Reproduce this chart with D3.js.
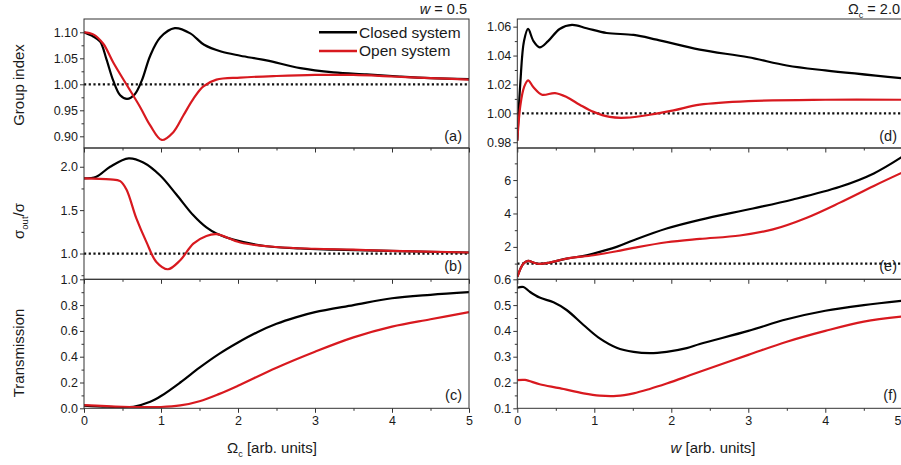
<!DOCTYPE html>
<html><head><meta charset="utf-8">
<script src="https://cdn.jsdelivr.net/npm/d3@7"></script>
<style>body{margin:0;background:#fff} text{font-family:Arial,"Liberation Sans",sans-serif;fill:#1a1a1a}</style>
</head><body>
<svg id="c" width="901" height="465"></svg>
<script>
// ---- data ----
const xTicks = [0,1,2,3,4,5];
const xMinor = [0.5,1.5,2.5,3.5,4.5];

// (a) group index vs Omega_c
const aClosedX = [0,0.12,0.21,0.29,0.38,0.47,0.56,0.66,0.75,0.86,0.99,1.18,1.38,1.56,1.78,2.03,2.37,2.81,3.24,3.67,4.1,4.5,5];
const aClosedY = [1.100,1.092,1.082,1.049,1.007,0.979,0.972,0.981,1.007,1.055,1.090,1.108,1.098,1.076,1.063,1.055,1.046,1.031,1.023,1.019,1.015,1.012,1.010];
const aOpenX = [0,0.12,0.25,0.38,0.55,0.73,0.86,1.01,1.16,1.29,1.42,1.55,1.72,2.03,2.5,3.0,3.5,4.0,4.5,5];
const aOpenY = [1.100,1.096,1.078,1.042,1.000,0.956,0.921,0.893,0.908,0.940,0.972,0.996,1.009,1.013,1.016,1.018,1.018,1.015,1.012,1.009];

// (b) sigma_out/sigma vs Omega_c
const bClosedX = [0,0.16,0.34,0.58,0.77,0.99,1.2,1.42,1.59,1.72,1.94,2.37,2.81,3.24,4.1,5];
const bClosedY = [1.866,1.885,2.0,2.097,2.05,1.90,1.68,1.44,1.30,1.23,1.16,1.084,1.058,1.046,1.027,1.012];
const bOpenX = [0,0.34,0.47,0.55,0.68,0.81,0.94,1.09,1.25,1.42,1.59,1.72,2.03,2.5,3.0,3.5,4.0,5];
const bOpenY = [1.866,1.855,1.835,1.74,1.404,1.134,0.903,0.819,0.923,1.115,1.203,1.223,1.127,1.075,1.055,1.045,1.030,1.012];

// (c) transmission vs Omega_c
const cClosedX = [0,0.3,0.64,0.86,1.0,1.25,1.5,1.75,2.0,2.25,2.5,2.75,3.0,3.5,4.0,4.5,5];
const cClosedY = [0.02,0.012,0.012,0.05,0.095,0.2,0.315,0.42,0.51,0.59,0.655,0.705,0.745,0.80,0.853,0.88,0.90];
const cOpenX = [0,0.5,1.0,1.25,1.5,1.75,2.0,2.5,3.0,3.5,4.0,4.5,5];
const cOpenY = [0.025,0.012,0.01,0.022,0.055,0.11,0.175,0.315,0.439,0.55,0.633,0.69,0.745];

// (d) group index vs w
const dClosedX = [0,0.04,0.087,0.14,0.21,0.29,0.40,0.55,0.71,0.90,1.16,1.51,1.81,2.37,3.0,3.5,4.0,5];
const dClosedY = [0.981,1.0216,1.050,1.0584,1.050,1.0457,1.050,1.0584,1.0612,1.0589,1.0556,1.0543,1.051,1.0441,1.0388,1.0331,1.0297,1.0243];
const dOpenX = [0,0.04,0.087,0.14,0.21,0.32,0.49,0.64,0.81,0.99,1.2,1.42,1.72,2.03,2.37,3.0,4.0,5];
const dOpenY = [0.981,1.0055,1.018,1.0228,1.018,1.0129,1.014,1.0113,1.006,1.001,0.9975,0.997,0.999,1.002,1.006,1.0085,1.0094,1.0094];

// (e) sigma_out/sigma vs w
const eClosedX = [0,0.08,0.14,0.21,0.29,0.42,0.64,0.85,0.99,1.29,1.51,1.94,2.37,3.06,3.58,4.19,4.63,5];
const eClosedY = [0.2,1.0,1.16,1.06,0.98,1.06,1.3,1.45,1.6,2.0,2.4,3.1,3.62,4.3,4.84,5.6,6.4,7.4];
const eOpenX = [0,0.08,0.14,0.21,0.29,0.42,0.64,0.99,1.29,1.51,1.94,2.37,2.89,3.32,3.76,4.19,4.63,5];
const eOpenY = [0.2,1.0,1.16,1.06,0.98,1.06,1.3,1.5,1.74,1.94,2.28,2.48,2.68,3.05,3.75,4.65,5.65,6.45];

// (f) transmission vs w
const fClosedX = [0,0.08,0.16,0.29,0.47,0.64,0.86,1.07,1.29,1.51,1.72,1.94,2.2,2.37,3.0,3.5,4.0,4.5,5];
const fClosedY = [0.567,0.570,0.552,0.529,0.511,0.481,0.423,0.371,0.335,0.319,0.314,0.319,0.333,0.349,0.40,0.445,0.478,0.50,0.517];
const fOpenX = [0,0.1,0.29,0.55,0.86,1.07,1.29,1.51,1.72,1.94,2.16,2.37,3.0,3.5,4.0,4.5,5];
const fOpenY = [0.209,0.21,0.193,0.178,0.158,0.149,0.148,0.158,0.175,0.196,0.219,0.242,0.307,0.358,0.40,0.436,0.456];

const seriesNames = ["Closed system","Open system"];
const colors = ["#000000","#d8191f"];

// ---- layout ----
const svg = d3.select('#c');
const cols = {L:[84,469], R:[517.3,902.3]};
const rows = {top:[19,148], mid:[148,279.3], bot:[279.3,408.3]};
const axisColor = "#333";

const panels = [
 {id:'a', col:'L', row:'top', dom:[0.8775,1.1256], major:[0.90,0.95,1.00,1.05,1.10], minor:[0.925,0.975,1.025,1.075], fmt:'.2f', s:[[aClosedX,aClosedY],[aOpenX,aOpenY]], ref:1},
 {id:'b', col:'L', row:'mid', dom:[0.703,2.216], major:[1.0,1.5,2.0], minor:[0.75,1.25,1.75], fmt:'.1f', s:[[bClosedX,bClosedY],[bOpenX,bOpenY]], ref:1},
 {id:'c', col:'L', row:'bot', dom:[0,1.0], major:[0,0.2,0.4,0.6,0.8,1.0], minor:[0.1,0.3,0.5,0.7,0.9], fmt:'.1f', s:[[cClosedX,cClosedY],[cOpenX,cOpenY]], ref:null},
 {id:'d', col:'R', row:'top', dom:[0.976,1.0653], major:[0.98,1.00,1.02,1.04,1.06], minor:[0.99,1.01,1.03,1.05], fmt:'.2f', s:[[dClosedX,dClosedY],[dOpenX,dOpenY]], ref:1},
 {id:'e', col:'R', row:'mid', dom:[0.06,7.92], major:[2,4,6], minor:[1,3,5,7], fmt:'d', s:[[eClosedX,eClosedY],[eOpenX,eOpenY]], ref:1},
 {id:'f', col:'R', row:'bot', dom:[0.1,0.6], major:[0.1,0.2,0.3,0.4,0.5,0.6], minor:[0.15,0.25,0.35,0.45,0.55], fmt:'.1f', s:[[fClosedX,fClosedY],[fOpenX,fOpenY]], ref:null}
];

const defs = svg.append('defs');
panels.forEach(p => {
  const [x0,x1] = cols[p.col], [y0,y1] = rows[p.row];
  const x = d3.scaleLinear([0,5],[x0,x1]);
  const y = d3.scaleLinear(p.dom,[y1,y0]);
  const g = svg.append('g');
  defs.append('clipPath').attr('id','clip'+p.id).append('rect')
    .attr('x',x0).attr('y',y0).attr('width',x1-x0).attr('height',y1-y0);

  if (p.ref !== null) {
    g.append('line').attr('x1',x0).attr('x2',x1).attr('y1',y(p.ref)).attr('y2',y(p.ref))
      .attr('stroke','#111').attr('stroke-width',2.3).attr('stroke-dasharray','2.2,2.5');
  }
  const line = d3.line().curve(d3.curveCatmullRom.alpha(0.5)).x(d=>x(d[0])).y(d=>y(d[1]));
  p.s.forEach((s,i) => {
    const pts = s[0].map((v,k)=>[v,s[1][k]]);
    g.append('path').attr('d',line(pts)).attr('fill','none').attr('stroke',colors[i])
      .attr('stroke-width',2.2).attr('stroke-linejoin','round').attr('clip-path','url(#clip'+p.id+')');
  });

  const ya = g.append('g').attr('transform',`translate(${x0},0)`)
    .call(d3.axisLeft(y).tickValues(p.major).tickSize(4).tickPadding(2).tickFormat(d3.format(p.fmt)));
  const ym = g.append('g').attr('transform',`translate(${x0},0)`)
    .call(d3.axisLeft(y).tickValues(p.minor).tickSize(2.5).tickFormat(''));
  const isBot = p.row==='bot';
  const xa = g.append('g').attr('transform',`translate(0,${y1})`)
    .call(d3.axisBottom(x).tickValues(xTicks).tickSize(4.5).tickPadding(3.8).tickFormat(isBot? d3.format('d') : ''));
  const xm = g.append('g').attr('transform',`translate(0,${y1})`)
    .call(d3.axisBottom(x).tickValues(xMinor).tickSize(2.5).tickFormat(''));
  [ya,ym,xa,xm].forEach(a => {
    a.select('.domain').remove();
    a.selectAll('line').attr('stroke',axisColor);
    a.selectAll('text').attr('font-size',12.5).attr('font-family','Arial, "Liberation Sans", sans-serif').attr('fill','#1a1a1a');
  });
  // keep the last x label of the right column inside the page
  if (isBot && p.col==='R') {
    xa.selectAll('.tick').filter(d=>d===5).select('text').attr('text-anchor','end').attr('x', 901 - x(5));
  }
  g.append('rect').attr('x',x0).attr('y',y0).attr('width',x1-x0).attr('height',y1-y0)
    .attr('fill','none').attr('stroke',axisColor).attr('stroke-width',1);
  const ly = {top:141, mid:271, bot:400}[p.row];
  g.append('text').attr('x', p.col==='L' ? 462 : 897).attr('y', ly).attr('text-anchor','end')
    .attr('font-size',14.5).text('('+p.id+')');
});

// legend
const legY = [32.3, 51];
seriesNames.forEach((n,i) => {
  svg.append('line').attr('x1',319).attr('x2',357).attr('y1',legY[i]).attr('y2',legY[i])
    .attr('stroke',colors[i]).attr('stroke-width',2.4);
  svg.append('text').attr('x',359).attr('y',legY[i]+5.4).attr('font-size',15.5).text(n);
});

// top annotations
const t1 = svg.append('text').attr('x',467).attr('y',13.5).attr('text-anchor','end').attr('font-size',14.5);
t1.append('tspan').attr('font-style','italic').text('w');
t1.append('tspan').text(' = 0.5');
const t2 = svg.append('text').attr('x',900).attr('y',13.5).attr('text-anchor','end').attr('font-size',14.5);
t2.append('tspan').text('Ω');
t2.append('tspan').attr('font-size',9).attr('dy',4).text('c');
t2.append('tspan').attr('dy',-4).text(' = 2.0');

// y titles
function ytitle(cy, build) {
  const t = svg.append('text').attr('transform',`translate(23.5,${cy}) rotate(-90)`)
    .attr('text-anchor','middle').attr('font-size',15);
  build(t);
}
ytitle(85, t => t.text('Group index'));
ytitle(221, t => {
  t.append('tspan').text('σ');
  t.append('tspan').attr('font-size',9.5).attr('dy',4).text('out');
  t.append('tspan').attr('dy',-4).text('/σ');
});
ytitle(353, t => t.text('Transmission'));

// x titles
const xt1 = svg.append('text').attr('x',272).attr('y',453).attr('text-anchor','middle').attr('font-size',15);
xt1.append('tspan').text('Ω');
xt1.append('tspan').attr('font-size',9).attr('dy',4).text('c');
xt1.append('tspan').attr('dy',-4).text(' [arb. units]');
const xt2 = svg.append('text').attr('x',713).attr('y',453).attr('text-anchor','middle').attr('font-size',15);
xt2.append('tspan').attr('font-style','italic').text('w');
xt2.append('tspan').text(' [arb. units]');
</script>
</body></html>
